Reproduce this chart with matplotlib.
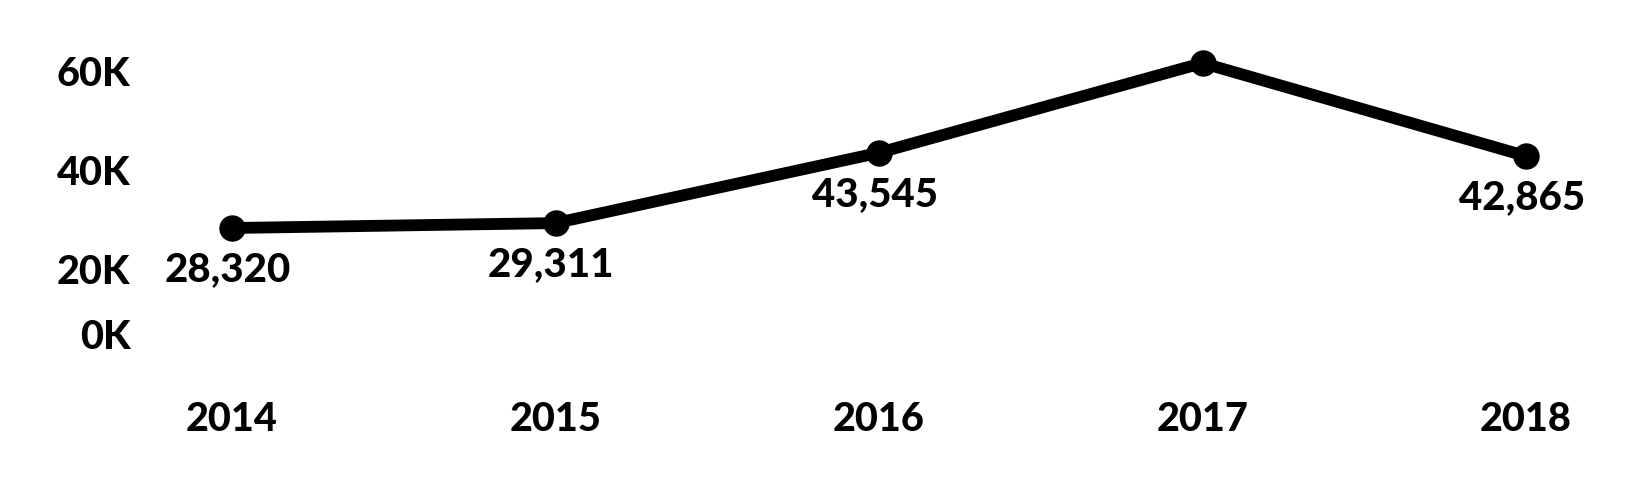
import matplotlib
matplotlib.use("Agg")
import matplotlib.pyplot as plt
from matplotlib.transforms import ScaledTranslation

years = ["2014", "2015", "2016", "2017", "2018"]
values = [28320, 29311, 43545, 61696, 42865]
ytick_values = [0, 20000, 40000, 60000]
ytick_labels = ["0K", "20K", "40K", "60K"]

W, H, DPI = 1634, 500, 100
fig = plt.figure(figsize=(W / DPI, H / DPI), dpi=DPI)
plt.rcParams['font.family'] = ['Lato', 'DejaVu Sans']
WEIGHT = "black"

left_px, right_px = 232, 1526
top_px, bottom_px = 71.4, 368
ax = fig.add_axes([left_px / W, (H - bottom_px) / H,
                   (right_px - left_px) / W, (bottom_px - top_px) / H])

x = list(range(len(years)))
ax.plot(x, values, color="black", linewidth=8.5, marker="o", markersize=18,
        clip_on=False, solid_capstyle="round", solid_joinstyle="round")

ax.set_xlim(0, len(years) - 1)
ax.set_ylim(0, 60000)

for xi, v in zip(x, values):
    ax.annotate(f"{v:,}", (xi, v), xytext=(-3, -30), textcoords="offset points",
                ha="center", va="center", fontsize=29, fontweight=WEIGHT,
                color="black")

ax.set_xticks(x, years)
ax.set_yticks(ytick_values, ytick_labels)
ax.tick_params(axis="x", length=0, pad=24, labelsize=28.5)
ax.tick_params(axis="y", length=0, pad=73, labelsize=28.5)
for lbl in ax.get_xticklabels() + ax.get_yticklabels():
    lbl.set_fontweight(WEIGHT)

zero_lbl = ax.get_yticklabels()[0]
zero_lbl.set_transform(zero_lbl.get_transform() +
                       ScaledTranslation(0, 34 / DPI, fig.dpi_scale_trans))

for s in ax.spines.values():
    s.set_visible(False)

fig.savefig("out.png", dpi=DPI, facecolor="white")
